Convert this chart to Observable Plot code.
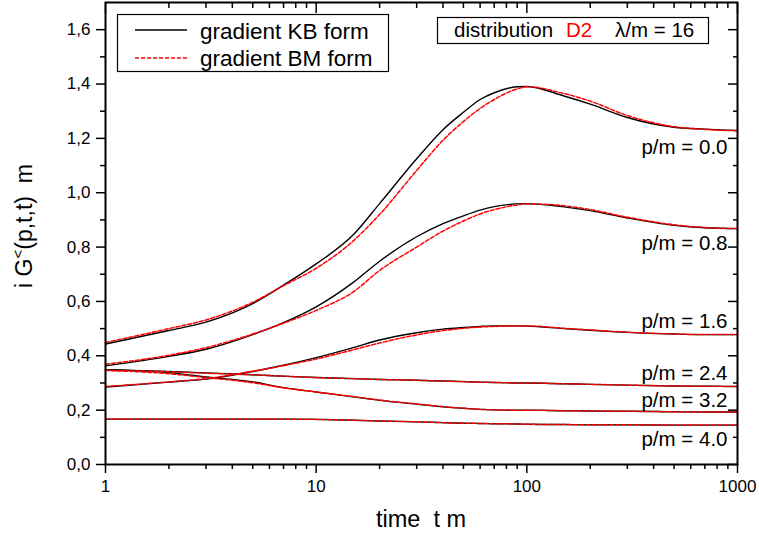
<!DOCTYPE html>
<html><head><meta charset="utf-8">
<script src="https://cdn.jsdelivr.net/npm/d3@7"></script>
<script src="https://cdn.jsdelivr.net/npm/@observablehq/plot@0.6"></script>
<style>body{margin:0;background:#fff} svg{display:block}</style>
</head><body><div id="chart"></div>
<script>
const times = [1,2,3,5,7,10,15,20,30,40,50,60,70,90,100,150,200,300,500,700,1000];
const momenta = ["0.0","0.8","1.6","2.4","3.2","4.0"];
// gradient KB form (black solid)
const kb_p00 = [0.443,0.493,0.524,0.592,0.660,0.738,0.845,0.960,1.125,1.232,1.296,1.343,1.368,1.390,1.391,1.356,1.326,1.277,1.241,1.234,1.229];
const kb_p08 = [0.363,0.398,0.424,0.478,0.522,0.580,0.670,0.748,0.838,0.886,0.915,0.936,0.949,0.959,0.960,0.948,0.934,0.907,0.880,0.871,0.868];
const kb_p16 = [0.285,0.303,0.314,0.342,0.365,0.393,0.430,0.458,0.485,0.498,0.504,0.508,0.510,0.510,0.509,0.500,0.494,0.486,0.480,0.478,0.478];
const kb_p24 = [0.349,0.342,0.337,0.330,0.325,0.320,0.316,0.313,0.310,0.307,0.305,0.303,0.302,0.300,0.300,0.297,0.295,0.292,0.289,0.288,0.287];
const kb_p32 = [0.349,0.338,0.322,0.304,0.283,0.267,0.249,0.236,0.222,0.212,0.207,0.203,0.201,0.200,0.200,0.198,0.197,0.196,0.194,0.193,0.193];
const kb_p40 = [0.167,0.167,0.167,0.167,0.167,0.166,0.163,0.160,0.157,0.154,0.152,0.151,0.150,0.149,0.148,0.147,0.146,0.146,0.145,0.145,0.145];
// gradient BM form (red dashed)
const bm_p00 = [0.449,0.500,0.532,0.597,0.658,0.722,0.823,0.920,1.082,1.193,1.262,1.310,1.343,1.382,1.390,1.365,1.337,1.284,1.243,1.233,1.228];
const bm_p08 = [0.369,0.402,0.430,0.480,0.520,0.567,0.635,0.714,0.800,0.859,0.896,0.922,0.938,0.955,0.959,0.952,0.938,0.910,0.882,0.872,0.868];
const bm_p16 = [0.287,0.304,0.316,0.343,0.364,0.388,0.422,0.447,0.477,0.493,0.501,0.506,0.508,0.510,0.510,0.501,0.495,0.487,0.480,0.478,0.478];
const bm_p24 = [0.347,0.341,0.336,0.330,0.325,0.320,0.316,0.313,0.310,0.307,0.305,0.303,0.302,0.300,0.300,0.297,0.295,0.292,0.289,0.288,0.287];
const bm_p32 = [0.346,0.334,0.320,0.301,0.282,0.267,0.250,0.237,0.223,0.213,0.207,0.203,0.201,0.200,0.200,0.198,0.197,0.196,0.194,0.193,0.193];
const bm_p40 = [0.167,0.167,0.167,0.167,0.167,0.166,0.163,0.160,0.157,0.154,0.152,0.151,0.150,0.149,0.148,0.147,0.146,0.146,0.145,0.145,0.145];

const labelTexts = ["p/m = 0.0","p/m = 0.8","p/m = 1.6","p/m = 2.4","p/m = 3.2","p/m = 4.0"];
const labelY = [1.165,0.812,0.526,0.334,0.235,0.092];

const xMajor = [1,10,100,1000];
const xMinor = [2,3,4,5,6,7,8,9,20,30,40,50,60,70,80,90,200,300,400,500,600,700,800,900];
const yMajor = [0,0.2,0.4,0.6,0.8,1.0,1.2,1.4,1.6];
const yMinor = [0.1,0.3,0.5,0.7,0.9,1.1,1.3,1.5];

const kbSeries = [kb_p00,kb_p08,kb_p16,kb_p24,kb_p32,kb_p40];
const bmSeries = [bm_p00,bm_p08,bm_p16,bm_p24,bm_p32,bm_p40];
const toRows = (series) => series.flatMap((vals, i) => vals.map((v, j) => ({p: momenta[i], t: times[j], v})));
const rowsKB = toRows(kbSeries);
const rowsBM = toRows(bmSeries);
const labelRows = labelTexts.map((text, i) => ({text, y: labelY[i]}));

const fmtY = d => d.toFixed(1).replace(".", ",");
const blank = () => "";
const font = "Liberation Sans, Arial, Helvetica, sans-serif";

const chart = Plot.plot({
  width: 759, height: 542,
  marginLeft: 105, marginRight: 22, marginTop: 2, marginBottom: 78,
  x: {type: "log", domain: [1, 1000]},
  y: {domain: [0, 1.7]},
  style: {fontFamily: font, fontSize: "17px", color: "black", background: "white"},
  marks: [
    Plot.line(rowsKB, {x: "t", y: "v", z: "p", stroke: "black", strokeWidth: 1.4, curve: "monotone-x"}),
    Plot.line(rowsBM, {x: "t", y: "v", z: "p", stroke: "#ff0000", strokeWidth: 1.5, strokeDasharray: "4,2", curve: "monotone-x"}),
    Plot.axisY(yMajor, {tickSize: 9, tickPadding: 6, tickFormat: fmtY, label: null, fontSize: 17, strokeWidth: 1.5}),
    Plot.axisY(yMinor, {tickSize: 5, tickFormat: blank, label: null, strokeWidth: 1.5}),
    Plot.axisY(yMajor, {anchor: "right", tickSize: 10, dx: -10, tickFormat: blank, label: null, strokeWidth: 1.5}),
    Plot.axisY(yMinor, {anchor: "right", tickSize: 5, dx: -5, tickFormat: blank, label: null, strokeWidth: 1.5}),
    Plot.axisX(xMajor, {tickSize: 9, tickPadding: 6, tickFormat: d => String(d), label: null, fontSize: 17, strokeWidth: 1.5}),
    Plot.axisX(xMinor, {tickSize: 5, tickFormat: blank, label: null, strokeWidth: 1.5}),
    Plot.axisX(xMajor, {anchor: "top", tickSize: 10, dy: 10, tickFormat: blank, label: null, strokeWidth: 1.5}),
    Plot.axisX(xMinor, {anchor: "top", tickSize: 5, dy: 5, tickFormat: blank, label: null, strokeWidth: 1.5}),
    Plot.frame({stroke: "black", strokeWidth: 2}),
    Plot.text(labelRows, {y: "y", text: "text", frameAnchor: "right", textAnchor: "end", dx: -10, fontSize: 20.5})
  ]
});
document.getElementById("chart").appendChild(chart);

const svg = d3.select(chart);
// axis titles
svg.append("text").attr("x", 421).attr("y", 527).attr("text-anchor", "middle")
  .attr("font-size", 23.5).attr("font-family", font).style("white-space", "pre").text("time  t m");
const yt = svg.append("text").attr("transform", "translate(32,226) rotate(-90)").attr("text-anchor", "middle")
  .attr("font-size", 23).attr("font-family", font).style("white-space", "pre");
yt.append("tspan").text("i G");
yt.append("tspan").attr("dy", -9).attr("font-size", 15).text("<");
yt.append("tspan").attr("dy", 9).text("(p,t,t)  m");

// legend 1
const lg = svg.append("g").attr("font-family", font).attr("text-anchor", "start");
lg.append("rect").attr("x", 117.5).attr("y", 14.5).attr("width", 271).attr("height", 57)
  .attr("fill", "white").attr("stroke", "black").attr("stroke-width", 1.2);
lg.append("line").attr("x1", 135).attr("x2", 187).attr("y1", 30).attr("y2", 30).attr("stroke", "black").attr("stroke-width", 1.4);
lg.append("line").attr("x1", 135).attr("x2", 187).attr("y1", 58).attr("y2", 58).attr("stroke", "#ff0000").attr("stroke-width", 1.5).attr("stroke-dasharray", "4,2");
lg.append("text").attr("x", 200).attr("y", 39).attr("font-size", 22.5).attr("text-anchor", "start").text("gradient KB form");
lg.append("text").attr("x", 200).attr("y", 66).attr("font-size", 22.5).attr("text-anchor", "start").text("gradient BM form");

// legend 2
const lg2 = svg.append("g").attr("font-family", font).attr("font-size", 20.5).attr("text-anchor", "start");
lg2.append("rect").attr("x", 437.5).attr("y", 17.5).attr("width", 271).attr("height", 26)
  .attr("fill", "white").attr("stroke", "black").attr("stroke-width", 1.2);
lg2.append("text").attr("x", 454).attr("y", 37).attr("text-anchor", "start").text("distribution");
lg2.append("text").attr("x", 566).attr("y", 37).attr("text-anchor", "start").attr("fill", "#ff0000").text("D2");
lg2.append("text").attr("x", 615).attr("y", 37).attr("text-anchor", "start").text("λ/m = 16");
</script></body></html>
